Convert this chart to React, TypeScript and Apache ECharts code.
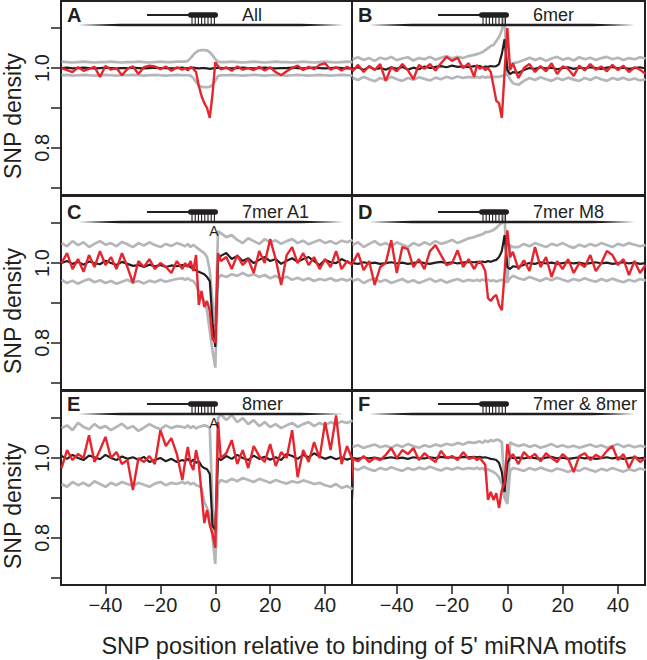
import React, { useEffect, useRef } from 'react';
import * as echarts from 'echarts';

// SNP position (shared x values for all panels)
const X = [-56,-54,-52,-50,-48,-46,-44,-42,-40,-38,-36,-34,-32,-30,-28,-26,-24,-22,-20,-18,-16,-14,-12,
  -11,-10,-9,-8,-7,-6,-5,-4,-3,-2,-1,0,1,2,
  4,6,8,10,12,14,16,18,20,22,24,26,28,30,32,34,36,38,40,42,44,46,48,50];

const PANEL_LETTERS = ['A','B','C','D','E','F'];
const PANEL_TITLES = ['All','6mer','7mer A1','7mer M8','8mer','7mer & 8mer'];
const SHOW_A_MARK = [false,false,true,false,true,false];
const X_TICKS = [-40,-20,0,20,40];
const Y_TICKS = [0.7,0.8,0.9,1.0,1.1];
const Y_LABELS = [0.8,1.0];

// Panel A
const aRed = [1.000,0.995,0.990,1.002,0.993,0.998,1.003,0.978,1.005,0.996,1.000,0.982,0.998,1.004,0.985,1.002,1.006,1.004,0.997,1.004,0.993,1.002,0.996,
  1.000,0.994,1.003,0.998,0.990,0.955,0.930,0.912,0.900,0.875,0.935,1.015,1.005,0.997,
  1.002,0.993,1.004,0.996,1.000,0.995,1.003,0.994,1.002,0.990,0.982,0.992,1.000,1.006,0.995,1.003,0.997,1.008,1.012,0.996,1.002,0.994,1.003,0.996];
const aBlack = [1.000,1.001,0.999,1.000,1.001,1.000,0.999,1.000,1.001,1.000,0.999,1.000,1.000,1.001,1.000,0.999,1.000,1.001,1.000,1.000,0.999,1.000,1.001,
  1.000,0.999,1.000,1.001,1.000,0.999,1.000,1.000,0.999,0.998,0.999,1.000,1.001,1.000,
  1.000,0.999,1.000,1.001,1.000,0.999,1.000,1.001,1.000,0.999,1.000,1.000,1.001,1.000,0.999,1.000,1.001,1.000,0.999,1.000,1.001,1.000,0.999,1.000];
const aUp = [1.016,1.015,1.014,1.015,1.016,1.015,1.014,1.015,1.015,1.016,1.015,1.014,1.015,1.015,1.016,1.015,1.014,1.015,1.016,1.015,1.015,1.016,1.016,
  1.016,1.018,1.025,1.033,1.040,1.044,1.045,1.045,1.044,1.040,1.032,1.022,1.016,1.015,
  1.015,1.016,1.015,1.014,1.015,1.016,1.015,1.014,1.015,1.016,1.015,1.015,1.014,1.015,1.016,1.015,1.014,1.015,1.016,1.015,1.014,1.015,1.016,1.015];
const aLo = [0.982,0.983,0.981,0.982,0.983,0.982,0.981,0.982,0.983,0.982,0.981,0.982,0.982,0.983,0.982,0.981,0.982,0.983,0.982,0.981,0.982,0.983,0.982,
  0.982,0.982,0.981,0.975,0.965,0.956,0.953,0.952,0.952,0.953,0.958,0.968,0.980,0.982,
  0.982,0.983,0.982,0.981,0.982,0.983,0.982,0.981,0.982,0.983,0.982,0.981,0.982,0.983,0.982,0.981,0.982,0.983,0.982,0.981,0.982,0.983,0.982,0.981];

// Panel B
const bRed = [0.992,1.008,0.990,1.005,0.995,1.010,0.968,1.002,0.992,1.010,0.995,0.972,1.008,0.998,1.010,0.994,1.012,1.028,1.018,1.026,1.000,1.012,0.978,
  1.008,0.998,1.003,0.995,1.000,0.990,0.955,0.918,0.912,0.875,0.990,1.100,0.995,1.012,
  0.975,1.000,1.010,0.990,1.005,0.992,1.012,0.985,1.004,0.998,0.980,1.006,0.994,1.010,0.996,1.004,0.992,1.008,0.995,1.006,0.990,1.002,0.996,0.985];
const bBlack = [0.998,1.002,0.995,1.003,0.997,1.000,0.996,1.002,0.998,1.003,0.996,1.001,0.997,1.004,1.000,1.003,1.005,1.002,1.006,1.003,1.004,1.002,1.005,
  1.003,1.005,1.002,1.004,1.003,1.005,1.004,1.005,1.010,1.035,1.072,0.995,0.985,0.990,
  0.988,0.995,1.000,0.998,1.002,0.999,1.001,0.997,1.000,1.002,0.998,1.001,0.999,1.002,1.000,0.998,1.001,1.003,0.999,1.001,0.998,1.000,1.002,0.999];
const bUp = [1.022,1.027,1.020,1.025,1.018,1.026,1.022,1.028,1.020,1.024,1.027,1.019,1.025,1.022,1.028,1.021,1.026,1.030,1.024,1.028,1.025,1.030,1.033,
  1.035,1.037,1.040,1.045,1.050,1.055,1.058,1.068,1.078,1.095,1.125,0.985,1.005,1.012,
  1.015,1.020,1.026,1.020,1.025,1.018,1.024,1.028,1.021,1.025,1.019,1.027,1.022,1.026,1.020,1.025,1.028,1.022,1.026,1.020,1.025,1.022,1.027,1.024];
const bLo = [0.975,0.970,0.978,0.972,0.967,0.975,0.970,0.978,0.972,0.968,0.975,0.971,0.977,0.973,0.969,0.976,0.972,0.978,0.974,0.979,0.975,0.978,0.976,
  0.978,0.975,0.979,0.976,0.978,0.977,0.978,0.978,0.978,0.980,0.982,0.985,0.972,0.962,
  0.958,0.968,0.975,0.970,0.977,0.972,0.968,0.975,0.970,0.976,0.971,0.968,0.975,0.970,0.977,0.972,0.968,0.975,0.971,0.976,0.970,0.974,0.969,0.972];

// Panel C
const cRed = [1.000,1.025,0.985,1.010,0.978,1.020,0.990,1.030,0.995,1.015,0.985,1.025,0.990,0.950,1.005,0.990,1.010,0.985,1.000,0.990,0.975,1.005,0.985,
  1.000,0.990,1.005,0.980,1.020,0.895,0.930,0.890,0.905,0.880,0.810,0.800,1.025,1.005,
  1.015,0.985,1.020,0.995,1.010,0.975,1.030,1.000,1.060,1.010,0.945,1.020,1.040,1.000,1.025,0.995,1.015,0.985,1.010,0.990,1.030,0.985,1.005,0.995];
const cBlack = [1.000,1.005,0.998,1.003,0.996,1.004,1.000,0.997,1.006,1.000,0.995,1.003,0.998,0.993,0.995,0.990,0.996,0.992,0.995,0.990,0.994,0.992,0.995,
  0.993,0.996,0.990,0.985,0.982,0.978,0.975,0.972,0.965,0.955,0.850,0.790,1.005,1.018,
  1.025,1.010,1.018,1.005,1.012,1.000,1.008,1.015,1.005,1.010,0.998,1.006,1.012,1.003,1.010,1.015,1.005,0.995,1.008,1.002,1.000,1.010,1.003,0.998];
const cUp = [1.050,1.042,1.055,1.045,1.052,1.040,1.048,1.055,1.046,1.050,1.042,1.053,1.047,1.040,1.050,1.044,1.052,1.045,1.040,1.048,1.043,1.050,1.045,
  1.042,1.048,1.040,1.046,1.040,1.035,1.030,1.025,1.015,0.980,0.900,0.840,1.080,1.075,
  1.065,1.070,1.058,1.050,1.062,1.055,1.048,1.060,1.052,1.057,1.048,1.055,1.060,1.050,1.056,1.047,1.053,1.058,1.050,1.055,1.048,1.056,1.052,1.058];
const cLo = [0.958,0.950,0.956,0.948,0.955,0.960,0.952,0.957,0.950,0.955,0.948,0.953,0.958,0.951,0.955,0.949,0.956,0.952,0.958,0.953,0.957,0.960,0.962,
  0.958,0.962,0.957,0.955,0.945,0.930,0.915,0.905,0.880,0.830,0.780,0.738,0.960,0.970,
  0.965,0.972,0.968,0.975,0.968,0.972,0.965,0.970,0.962,0.968,0.960,0.966,0.958,0.963,0.957,0.962,0.955,0.960,0.957,0.962,0.955,0.960,0.956,0.962];

// Panel D
const dRed = [1.000,1.025,0.982,1.005,0.945,0.990,1.000,1.057,0.975,1.040,1.035,0.990,1.010,0.985,1.030,1.045,1.020,0.995,1.000,1.032,0.990,1.010,0.985,
  0.998,1.005,0.995,0.980,0.912,0.905,0.915,0.920,0.895,0.882,0.975,1.082,1.015,1.028,
  0.985,1.007,0.980,1.040,0.990,1.015,0.965,1.005,0.985,1.010,0.975,1.000,0.990,1.020,0.980,1.000,1.030,1.020,0.995,1.010,0.970,1.005,0.975,0.995];
const dBlack = [1.000,0.998,1.002,0.999,1.001,0.998,1.000,1.002,0.999,1.001,0.998,1.000,1.003,1.000,0.998,1.001,1.003,1.000,1.002,0.999,1.001,1.003,1.002,
  1.003,1.000,1.004,1.002,1.005,1.003,1.006,1.008,1.015,1.030,1.070,0.990,0.985,0.992,
  0.990,0.996,1.000,0.998,1.002,0.999,1.001,0.998,1.000,1.002,0.999,1.001,0.998,1.000,1.002,0.999,1.001,0.998,1.000,1.002,0.999,1.001,0.998,1.000];
const dUp = [1.045,1.052,1.040,1.048,1.055,1.045,1.050,1.042,1.052,1.046,1.040,1.050,1.044,1.052,1.046,1.055,1.048,1.052,1.058,1.050,1.056,1.062,1.065,
  1.068,1.070,1.072,1.077,1.078,1.080,1.083,1.088,1.095,1.100,1.120,0.955,1.045,1.040,
  1.040,1.048,1.042,1.050,1.045,1.040,1.048,1.044,1.050,1.043,1.038,1.046,1.041,1.048,1.043,1.050,1.045,1.040,1.048,1.044,1.050,1.046,1.042,1.045];
const dLo = [0.955,0.960,0.950,0.957,0.962,0.953,0.958,0.950,0.955,0.960,0.952,0.957,0.950,0.955,0.961,0.953,0.958,0.951,0.956,0.960,0.954,0.958,0.955,
  0.958,0.955,0.959,0.956,0.958,0.955,0.957,0.954,0.956,0.958,0.955,0.952,0.962,0.968,
  0.962,0.958,0.965,0.960,0.955,0.962,0.957,0.963,0.958,0.954,0.960,0.956,0.962,0.957,0.953,0.960,0.955,0.961,0.956,0.952,0.958,0.954,0.960,0.956];

// Panel E
const eRed = [0.975,1.020,0.995,1.010,1.000,1.057,0.990,1.020,1.053,1.000,1.015,0.985,0.995,0.920,1.000,0.990,1.005,0.985,1.070,1.030,1.050,1.010,0.945,
  0.990,1.028,0.985,0.970,1.020,0.985,0.912,0.837,0.870,0.832,0.810,0.775,1.090,1.000,
  1.012,1.045,0.985,1.020,0.975,1.030,1.005,0.990,1.035,0.980,1.015,1.000,1.070,0.952,1.020,0.990,1.040,1.000,1.090,1.020,1.107,0.985,1.030,0.995];
const eRedTailX = [51];
const eRedTail = [0.890];
const eBlack = [1.005,0.998,1.008,1.000,0.995,1.006,1.002,0.997,1.008,1.000,0.995,1.004,0.998,1.002,0.996,1.003,0.990,0.995,1.000,0.992,0.998,0.990,0.995,
  0.992,0.998,0.990,0.996,0.988,0.992,0.980,0.975,0.972,0.960,0.830,0.820,1.000,0.995,
  1.005,0.998,1.008,1.000,0.995,1.006,0.998,1.003,0.996,1.002,0.995,1.010,1.005,0.998,1.008,1.002,1.012,1.004,0.998,1.003,0.997,1.002,0.996,1.000];
const eUp = [1.075,1.082,1.070,1.088,1.078,1.072,1.085,1.075,1.080,1.070,1.078,1.086,1.074,1.080,1.068,1.076,1.085,1.078,1.072,1.082,1.075,1.080,1.078,
  1.076,1.082,1.075,1.080,1.074,1.078,1.080,1.082,1.080,1.075,0.880,0.780,1.100,1.110,
  1.095,1.108,1.090,1.100,1.085,1.095,1.080,1.090,1.078,1.085,1.075,1.082,1.088,1.078,1.085,1.090,1.080,1.088,1.082,1.090,1.085,1.092,1.088,1.094];
const eLo = [0.935,0.928,0.940,0.932,0.938,0.930,0.942,0.935,0.928,0.938,0.932,0.940,0.935,0.930,0.938,0.933,0.928,0.936,0.940,0.932,0.938,0.935,0.940,
  0.936,0.940,0.934,0.938,0.932,0.930,0.925,0.890,0.875,0.855,0.800,0.735,0.935,0.945,
  0.940,0.948,0.942,0.950,0.945,0.940,0.948,0.943,0.938,0.945,0.940,0.936,0.942,0.938,0.944,0.940,0.935,0.938,0.932,0.928,0.935,0.925,0.930,0.922];

// Panel F
const fRed = [0.998,0.992,1.005,0.990,1.000,0.995,1.008,1.025,1.000,1.020,1.010,1.025,0.995,1.012,1.000,0.990,1.018,1.000,1.005,0.995,1.015,0.998,1.002,
  0.995,1.000,0.992,0.983,0.895,0.915,0.895,0.912,0.875,0.920,0.937,1.035,1.000,1.010,
  0.985,1.015,1.000,1.010,0.992,1.012,1.000,0.990,1.010,0.998,0.965,1.005,1.012,0.995,1.008,1.000,1.018,1.030,0.995,1.010,0.975,1.005,0.990,1.000];
const fBlack = [1.000,0.998,1.002,0.999,1.001,0.998,1.000,1.002,0.999,1.001,0.998,1.002,1.000,0.999,1.002,1.000,1.003,1.001,1.002,1.000,1.003,1.002,1.003,
  1.002,1.003,1.001,1.002,1.000,0.998,0.997,0.995,0.988,0.965,0.915,0.987,1.002,1.000,
  1.001,0.999,1.002,1.000,0.998,1.001,1.003,0.999,1.001,0.998,1.000,1.002,0.999,1.001,0.998,1.000,1.002,0.999,1.001,0.998,1.000,1.002,0.999,1.001];
const fUp = [1.028,1.032,1.025,1.030,1.034,1.027,1.031,1.026,1.033,1.028,1.035,1.030,1.026,1.032,1.028,1.034,1.030,1.036,1.032,1.038,1.034,1.040,1.038,
  1.040,1.042,1.038,1.044,1.040,1.045,1.042,1.046,1.045,1.040,0.930,0.890,1.040,1.035,
  1.030,1.034,1.028,1.032,1.026,1.030,1.035,1.028,1.032,1.027,1.031,1.026,1.030,1.034,1.028,1.032,1.026,1.030,1.035,1.028,1.032,1.027,1.031,1.028];
const fLo = [0.975,0.970,0.978,0.972,0.968,0.975,0.971,0.977,0.972,0.968,0.975,0.970,0.976,0.972,0.978,0.973,0.969,0.975,0.971,0.976,0.972,0.975,0.973,
  0.976,0.972,0.975,0.970,0.972,0.968,0.965,0.960,0.952,0.935,0.900,0.885,0.968,0.975,
  0.972,0.968,0.975,0.970,0.976,0.971,0.967,0.974,0.970,0.965,0.972,0.968,0.975,0.970,0.966,0.973,0.969,0.975,0.970,0.966,0.972,0.968,0.974,0.970];

const PANELS = [
  { red: aRed, black: aBlack, up: aUp, lo: aLo },
  { red: bRed, black: bBlack, up: bUp, lo: bLo },
  { red: cRed, black: cBlack, up: cUp, lo: cLo },
  { red: dRed, black: dBlack, up: dUp, lo: dLo },
  { red: eRed, black: eBlack, up: eUp, lo: eLo, tailX: eRedTailX, tail: eRedTail },
  { red: fRed, black: fBlack, up: fUp, lo: fLo },
];

const FONT = '"Liberation Sans", Arial, Helvetica, sans-serif';
const INK = '#231f20';
const RED = '#e5262e';
const GRAY = '#b4b6b9';
const COL_LEFT = [61, 352];
const COL_WIDTH = [291, 293];
const ROW_TOP = [1, 196, 391];
const ROW_H = 194;
const HEAD_OFF = [14, 16, 13];

function pairs(xs: number[], ys: number[]) {
  return xs.map((x, i) => [x, ys[i]]);
}

function buildOption() {
  const grid: any[] = [];
  const xAxis: any[] = [];
  const yAxis: any[] = [];
  const series: any[] = [];
  const graphic: any[] = [];

  PANELS.forEach((p: any, i) => {
    const c = i % 2;
    const r = Math.floor(i / 2);
    const gl = COL_LEFT[c];
    const gt = ROW_TOP[r];
    grid.push({
      left: gl, top: gt, width: COL_WIDTH[c], height: ROW_H,
      show: true, borderColor: INK, borderWidth: 2, backgroundColor: 'transparent',
    });
    const bottomRow = r === 2;
    const leftCol = c === 0;
    xAxis.push({
      type: 'value', gridIndex: i, min: -56.2, max: 49.8, position: 'bottom',
      axisLine: { show: false, onZero: false }, splitLine: { show: false },
      axisTick: { show: bottomRow, customValues: X_TICKS, length: 9, lineStyle: { color: INK, width: 1.5 } },
      axisLabel: {
        show: bottomRow, customValues: X_TICKS, margin: 10, fontSize: 20, fontFamily: FONT, color: INK,
        formatter: (v: number) => (v < 0 ? '\u2212' + Math.abs(v) : String(v)),
      },
    });
    yAxis.push({
      type: 'value', gridIndex: i, min: 0.682, max: 1.168, position: 'left',
      axisLine: { show: false, onZero: false }, splitLine: { show: false },
      axisTick: { show: leftCol, customValues: Y_TICKS, length: 10, lineStyle: { color: INK, width: 1.5 } },
      axisLabel: {
        show: leftCol, customValues: Y_LABELS, rotate: 90, margin: 9, fontSize: 20, fontFamily: FONT, color: INK,
        formatter: (v: number) => v.toFixed(1),
      },
    });
    const base = { type: 'line', xAxisIndex: i, yAxisIndex: i, symbol: 'none', showSymbol: false, silent: true };
    series.push({ ...base, data: pairs(X, p.up), lineStyle: { color: GRAY, width: 2.7 }, z: 2 });
    series.push({ ...base, data: pairs(X, p.lo), lineStyle: { color: GRAY, width: 2.7 }, z: 2 });
    series.push({ ...base, data: pairs(X, p.black), lineStyle: { color: INK, width: 2.2 }, z: 3 });
    const redData = pairs(X, p.red).concat(p.tailX ? pairs(p.tailX, p.tail) : []);
    series.push({ ...base, data: redData, lineStyle: { color: RED, width: 2.4 }, z: 4, clip: !p.tailX });

    // header glyph
    const hy = gt + HEAD_OFF[r];
    const ly = hy + 10;
    graphic.push({
      type: 'polygon', z: 100,
      shape: { points: [[gl + 17, ly], [gl + 60, ly - 1.3], [gl + 240, ly - 1.3], [gl + 283, ly], [gl + 240, ly + 1.3], [gl + 60, ly + 1.3]] },
      style: { fill: INK },
    });
    graphic.push({ type: 'line', z: 100, shape: { x1: gl + 86, y1: hy, x2: gl + 130, y2: hy }, style: { stroke: INK, lineWidth: 2 } });
    graphic.push({ type: 'rect', z: 100, shape: { x: gl + 127, y: hy - 2.8, width: 30, height: 5.6, r: 2.8 }, style: { fill: INK } });
    for (let k = 0; k < 8; k++) {
      const tx = gl + 131 + k * 3.2;
      graphic.push({ type: 'line', z: 100, shape: { x1: tx, y1: hy + 2, x2: tx, y2: ly }, style: { stroke: INK, lineWidth: 1.1 } });
    }
    graphic.push({
      type: 'text', z: 100, x: gl + 181, y: hy,
      style: { text: PANEL_TITLES[i], fontSize: 18, fontFamily: FONT, fill: INK, align: 'left', verticalAlign: 'middle' },
    });
    graphic.push({
      type: 'text', z: 100, x: gl + 6, y: hy,
      style: { text: PANEL_LETTERS[i], fontSize: 20, fontWeight: 'bold', fontFamily: FONT, fill: INK, align: 'left', verticalAlign: 'middle' },
    });
    if (SHOW_A_MARK[i]) {
      graphic.push({
        type: 'text', z: 100, x: gl + 153, y: ly + 9,
        style: { text: 'A', fontSize: 14, fontFamily: FONT, fill: INK, align: 'center', verticalAlign: 'middle' },
      });
    }
    if (leftCol) {
      graphic.push({
        type: 'text', z: 100, x: 13, y: gt + 115, rotation: Math.PI / 2,
        style: { text: 'SNP density', fontSize: 23, fontFamily: FONT, fill: INK, align: 'center', verticalAlign: 'middle' },
      });
    }
  });

  graphic.push({
    type: 'text', z: 100, x: 364, y: 646,
    style: { text: "SNP position relative to binding of 5' miRNA motifs", fontSize: 23.5, fontFamily: FONT, fill: INK, align: 'center', verticalAlign: 'middle' },
  });

  return { animation: false, backgroundColor: '#ffffff', grid, xAxis, yAxis, series, graphic };
}

export default function App() {
  const ref = useRef<HTMLDivElement>(null);
  useEffect(() => {
    const chart = echarts.init(ref.current as HTMLDivElement, null, { renderer: 'svg' });
    chart.setOption(buildOption() as any);
    return () => chart.dispose();
  }, []);
  return <div ref={ref} style={{ position: 'fixed', left: 0, top: 0, width: 647, height: 660 }} />;
}
